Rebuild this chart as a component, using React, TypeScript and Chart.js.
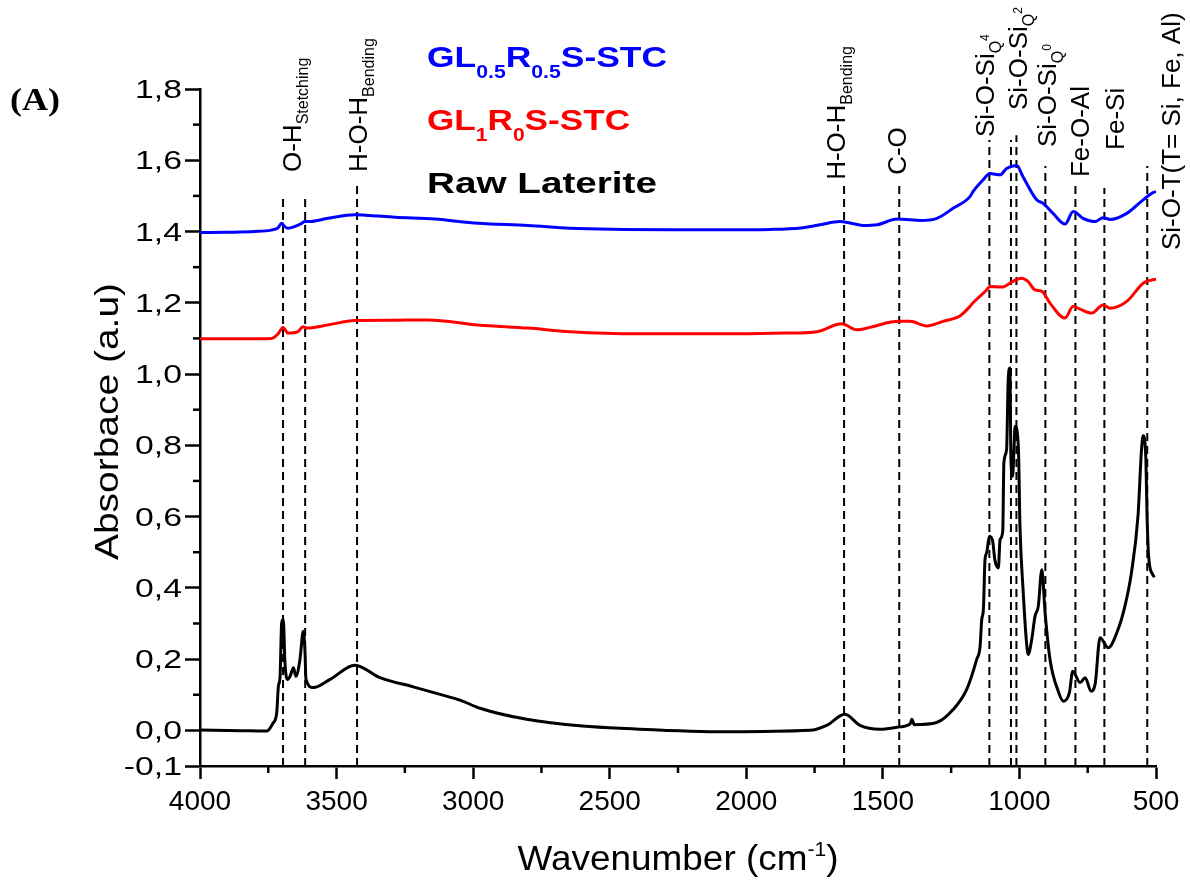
import React, { useEffect, useRef } from "react";
import { Chart, registerables } from "chart.js";

Chart.register(...registerables);

// FTIR spectra: wavenumber (cm-1) / absorbance (a.u)
const BLUE_WN = [4000, 3900, 3800, 3740, 3715, 3701, 3690, 3678, 3650, 3628, 3616, 3600, 3531, 3433, 3380, 3286, 3140, 2982, 2799, 2645, 2450, 2279, 2100, 1913, 1800, 1730, 1657, 1620, 1573, 1521, 1448, 1400, 1364, 1302, 1243, 1181, 1170, 1133, 1108, 1071, 1047, 1010, 987, 937, 913, 877, 833, 803, 767, 723, 694, 668, 607, 547, 511, 500];
const BLUE_ABS = [1.397, 1.398, 1.4, 1.404, 1.41, 1.423, 1.414, 1.409, 1.415, 1.423, 1.428, 1.428, 1.437, 1.447, 1.445, 1.44, 1.435, 1.423, 1.417, 1.409, 1.406, 1.405, 1.405, 1.406, 1.41, 1.419, 1.428, 1.424, 1.417, 1.419, 1.435, 1.433, 1.431, 1.437, 1.465, 1.498, 1.512, 1.545, 1.563, 1.559, 1.577, 1.585, 1.554, 1.489, 1.479, 1.451, 1.421, 1.456, 1.437, 1.428, 1.439, 1.434, 1.451, 1.489, 1.509, 1.512];

const RED_WN = [4000, 3850, 3738, 3714, 3696, 3678, 3641, 3623, 3609, 3531, 3433, 3300, 3165, 2982, 2799, 2645, 2401, 2034, 1850, 1741, 1651, 1596, 1547, 1470, 1437, 1401, 1339, 1280, 1218, 1181, 1170, 1120, 1108, 1065, 1024, 992, 969, 943, 918, 888, 833, 803, 778, 735, 694, 668, 607, 547, 516, 500];
const RED_ABS = [1.099, 1.099, 1.1, 1.113, 1.131, 1.115, 1.119, 1.133, 1.129, 1.138, 1.15, 1.151, 1.152, 1.138, 1.129, 1.119, 1.113, 1.113, 1.115, 1.119, 1.141, 1.124, 1.131, 1.146, 1.148, 1.148, 1.135, 1.148, 1.163, 1.19, 1.2, 1.236, 1.246, 1.244, 1.26, 1.269, 1.26, 1.236, 1.232, 1.199, 1.157, 1.19, 1.182, 1.171, 1.194, 1.185, 1.204, 1.255, 1.264, 1.266];

const RAW_WN = [4000, 3850, 3756, 3733, 3719, 3713, 3707, 3701, 3695, 3689, 3680, 3670, 3658, 3649, 3634, 3622, 3616, 3612, 3585, 3524, 3433, 3341, 3219, 3121, 3048, 2975, 2804, 2600, 2438, 2072, 1767, 1706, 1639, 1584, 1510, 1437, 1400, 1394, 1385, 1303, 1242, 1193, 1156, 1144, 1138, 1132, 1126, 1120, 1110, 1098, 1090, 1077, 1071, 1061, 1057, 1047, 1041, 1035, 1031, 1025, 1020, 1016, 1004, 998, 986, 974, 968, 955, 943, 931, 918, 906, 888, 858, 839, 817, 805, 778, 759, 738, 723, 705, 675, 639, 614, 590, 566, 553, 547, 537, 533, 527, 512, 505];
const RAW_ABS = [0.001, -0.001, -0.002, 0.02, 0.05, 0.124, 0.149, 0.302, 0.311, 0.19, 0.143, 0.152, 0.176, 0.152, 0.199, 0.278, 0.227, 0.143, 0.12, 0.143, 0.183, 0.148, 0.122, 0.101, 0.085, 0.062, 0.031, 0.012, 0.005, -0.004, 0.0, 0.014, 0.045, 0.014, 0.003, 0.01, 0.018, 0.031, 0.016, 0.022, 0.059, 0.115, 0.2, 0.236, 0.311, 0.339, 0.479, 0.498, 0.545, 0.531, 0.479, 0.456, 0.535, 0.559, 0.75, 0.788, 0.984, 1.017, 0.76, 0.713, 0.788, 0.853, 0.797, 0.573, 0.386, 0.246, 0.213, 0.255, 0.32, 0.348, 0.451, 0.33, 0.199, 0.11, 0.082, 0.106, 0.166, 0.134, 0.148, 0.11, 0.129, 0.26, 0.232, 0.283, 0.348, 0.442, 0.601, 0.788, 0.827, 0.76, 0.61, 0.489, 0.437, 0.43];

// Axis ticks
const X_TICKS = [4000, 3500, 3000, 2500, 2000, 1500, 1000, 500];
const X_MINOR = [3750, 3250, 2750, 2250, 1750, 1250, 750];
const Y_TICKS = [-0.1, 0, 0.2, 0.4, 0.6, 0.8, 1.0, 1.2, 1.4, 1.6, 1.8];
const Y_MINOR = [0.1, 0.3, 0.5, 0.7, 0.9, 1.1, 1.3, 1.5, 1.7];

// Band assignment guide lines (wavenumber, top of the dashed line)
const BAND_WN = [3696, 3615, 3425, 1642, 1440, 1110, 1031, 1011, 905, 795, 689, 532];
const BAND_TOP = [1.497, 1.497, 1.536, 1.53, 1.53, 1.657, 1.657, 1.67, 1.584, 1.536, 1.522, 1.584];

// Band labels (vertical text): anchor wavenumber, absorbance where text starts
const LABEL_WN = [3663, 3422, 1671, 1448, 1126, 1005, 899, 778, 650, 445];
const LABEL_AT = [1.567, 1.567, 1.545, 1.559, 1.665, 1.741, 1.637, 1.553, 1.629, 1.348];
const LABEL_MAIN = ["O-H", "H-O-H", "H-O-H", "C-O", "Si-O-Si", "Si-O-Si", "Si-O-Si", "Fe-O-Al", "Fe-Si", "Si-O-T(T= Si, Fe, Al)"];
const LABEL_SUB = ["Stetching", "Bending", "Bending", "", "Q", "Q", "Q", "", "", ""];
const LABEL_SUP = ["", "", "", "", "4", "2", "0", "", "", ""];

// Series names (pieces flagged 1 are subscripts)
const SERIES_NAMES: [string, number][][] = [
  [["GL", 0], ["0.5", 1], ["R", 0], ["0.5", 1], ["S-STC", 0]],
  [["GL", 0], ["1", 1], ["R", 0], ["0", 1], ["S-STC", 0]],
  [["Raw Laterite", 0]],
];
const SERIES_COLORS = ["#0000ff", "#ff0000", "#000000"];

const SANS = "'Liberation Sans', Arial, sans-serif";
const SERIF = "'Liberation Serif', 'Times New Roman', serif";

type Part = { text: string; font: string; dy: number };

function drawRich(
  ctx: CanvasRenderingContext2D,
  parts: Part[],
  x: number,
  y: number,
  opts: { rotate?: boolean; align?: "left" | "center" | "right"; width?: number; sx?: number; color?: string }
) {
  ctx.save();
  let total = 0;
  const widths = parts.map((p) => {
    ctx.font = p.font;
    const w = ctx.measureText(p.text).width;
    total += w;
    return w;
  });
  const sx = opts.width ? opts.width / total : opts.sx ?? 1;
  ctx.translate(x, y);
  if (opts.rotate) ctx.rotate(-Math.PI / 2);
  ctx.scale(sx, 1);
  let cx = opts.align === "center" ? -total / 2 : opts.align === "right" ? -total : 0;
  ctx.fillStyle = opts.color ?? "#000";
  ctx.textAlign = "left";
  ctx.textBaseline = "alphabetic";
  parts.forEach((p, i) => {
    ctx.font = p.font;
    ctx.fillText(p.text, cx, p.dy);
    cx += widths[i];
  });
  ctx.restore();
}

const decorPlugin = {
  id: "ftirDecor",
  beforeDatasetsDraw(chart: any) {
    const { ctx, chartArea, scales } = chart;
    const xs = scales.x;
    const ys = scales.y;
    ctx.save();
    ctx.strokeStyle = "#000";
    ctx.lineWidth = 2;
    ctx.setLineDash([8, 5]);
    BAND_WN.forEach((wn, i) => {
      const px = xs.getPixelForValue(wn);
      ctx.beginPath();
      ctx.moveTo(px, chartArea.bottom);
      ctx.lineTo(px, ys.getPixelForValue(BAND_TOP[i]));
      ctx.stroke();
    });
    ctx.restore();
  },
  afterDraw(chart: any) {
    const { ctx, chartArea, scales } = chart;
    const xs = scales.x;
    const ys = scales.y;

    // minor ticks
    ctx.save();
    ctx.strokeStyle = "#000";
    ctx.lineWidth = 2.5;
    ctx.setLineDash([]);
    X_MINOR.forEach((v) => {
      const px = xs.getPixelForValue(v);
      ctx.beginPath();
      ctx.moveTo(px, chartArea.bottom);
      ctx.lineTo(px, chartArea.bottom + 7);
      ctx.stroke();
    });
    Y_MINOR.forEach((v) => {
      const py = ys.getPixelForValue(v);
      ctx.beginPath();
      ctx.moveTo(chartArea.left, py);
      ctx.lineTo(chartArea.left - 7, py);
      ctx.stroke();
    });
    ctx.restore();

    // y tick labels
    Y_TICKS.forEach((v) => {
      const txt = v.toFixed(1).replace(".", ",");
      drawRich(ctx, [{ text: txt, font: `25px ${SANS}`, dy: 9 }], chartArea.left - 18, ys.getPixelForValue(v), {
        align: "right",
        sx: 1.35,
      });
    });

    // axis titles
    drawRich(ctx, [{ text: "Absorbace (a.u)", font: `34px ${SANS}`, dy: 12 }], 106, (chartArea.top + chartArea.bottom) / 2 - 6, {
      rotate: true,
      align: "center",
      width: 277,
    });
    drawRich(
      ctx,
      [
        { text: "Wavenumber (cm", font: `35px ${SANS}`, dy: 0 },
        { text: "-1", font: `20px ${SANS}`, dy: -14 },
        { text: ")", font: `35px ${SANS}`, dy: 0 },
      ],
      (chartArea.left + chartArea.right) / 2,
      870,
      { align: "center", width: 321 }
    );

    // panel tag
    drawRich(ctx, [{ text: "(A)", font: `bold 31px ${SERIF}`, dy: 0 }], 10, 110, { width: 50 });

    // series names
    const nameWidths = [240, 203, 230];
    const nameBaselines = [67, 130, 193];
    SERIES_NAMES.forEach((pieces, i) => {
      const parts = pieces.map(([t, sub]) => ({
        text: t,
        font: sub ? `bold 18px ${SANS}` : `bold 30px ${SANS}`,
        dy: sub ? 11 : 0,
      }));
      drawRich(ctx, parts, 427, nameBaselines[i], { width: nameWidths[i], color: SERIES_COLORS[i] });
    });

    // band labels
    LABEL_MAIN.forEach((main, i) => {
      const parts: Part[] = [{ text: main, font: `26px ${SANS}`, dy: 9 }];
      if (LABEL_SUB[i]) parts.push({ text: LABEL_SUB[i], font: `16px ${SANS}`, dy: 16 });
      if (LABEL_SUP[i]) parts.push({ text: LABEL_SUP[i], font: `12px ${SANS}`, dy: 4 });
      drawRich(ctx, parts, xs.getPixelForValue(LABEL_WN[i]), ys.getPixelForValue(LABEL_AT[i]), { rotate: true });
    });
  },
};

function series(wn: number[], abs: number[]) {
  return wn.map((x, i) => ({ x, y: abs[i] }));
}

export default function App() {
  const canvasRef = useRef<HTMLCanvasElement | null>(null);

  useEffect(() => {
    if (!canvasRef.current) return;
    const tickGrid = {
      display: true,
      drawOnChartArea: false,
      drawTicks: true,
      tickWidth: 2.5,
      tickColor: "#000",
    };
    const chart = new Chart(canvasRef.current, {
      type: "line",
      data: {
        datasets: [
          {
            label: "Raw Laterite",
            data: series(RAW_WN, RAW_ABS),
            borderColor: SERIES_COLORS[2],
            borderWidth: 3,
            pointRadius: 0,
            cubicInterpolationMode: "monotone",
            fill: false,
          },
          {
            label: "GL1R0S-STC",
            data: series(RED_WN, RED_ABS),
            borderColor: SERIES_COLORS[1],
            borderWidth: 3,
            pointRadius: 0,
            cubicInterpolationMode: "monotone",
            fill: false,
          },
          {
            label: "GL0.5R0.5S-STC",
            data: series(BLUE_WN, BLUE_ABS),
            borderColor: SERIES_COLORS[0],
            borderWidth: 3,
            pointRadius: 0,
            cubicInterpolationMode: "monotone",
            fill: false,
          },
        ],
      },
      options: {
        animation: false,
        responsive: false,
        devicePixelRatio: 1,
        events: [],
        layout: { padding: { left: 0, top: 89, right: 34, bottom: 0 } },
        plugins: { legend: { display: false }, tooltip: { enabled: false } },
        scales: {
          x: {
            type: "linear",
            reverse: true,
            min: 500,
            max: 4000,
            afterBuildTicks: (s: any) => {
              s.ticks = X_TICKS.map((value) => ({ value }));
            },
            afterFit: (s: any) => {
              s.height = 122;
            },
            grid: { ...tickGrid, tickLength: 13 },
            border: { display: true, color: "#000", width: 2.5 },
            ticks: {
              autoSkip: false,
              maxRotation: 0,
              padding: 6,
              color: "#000",
              font: { family: SANS, size: 28 },
              callback: (v: any) => String(v),
            },
          },
          y: {
            type: "linear",
            min: -0.1,
            max: 1.8,
            afterBuildTicks: (s: any) => {
              s.ticks = Y_TICKS.map((value) => ({ value }));
            },
            afterFit: (s: any) => {
              s.width = 200;
            },
            grid: { ...tickGrid, tickLength: 15 },
            border: { display: true, color: "#000", width: 2.5 },
            ticks: { display: false },
          },
        },
      } as any,
      plugins: [decorPlugin],
    });
    return () => chart.destroy();
  }, []);

  return (
    <div style={{ position: "fixed", left: 0, top: 0, width: 1190, height: 888, background: "#fff" }}>
      <canvas ref={canvasRef} width={1190} height={888} style={{ display: "block" }} />
    </div>
  );
}
